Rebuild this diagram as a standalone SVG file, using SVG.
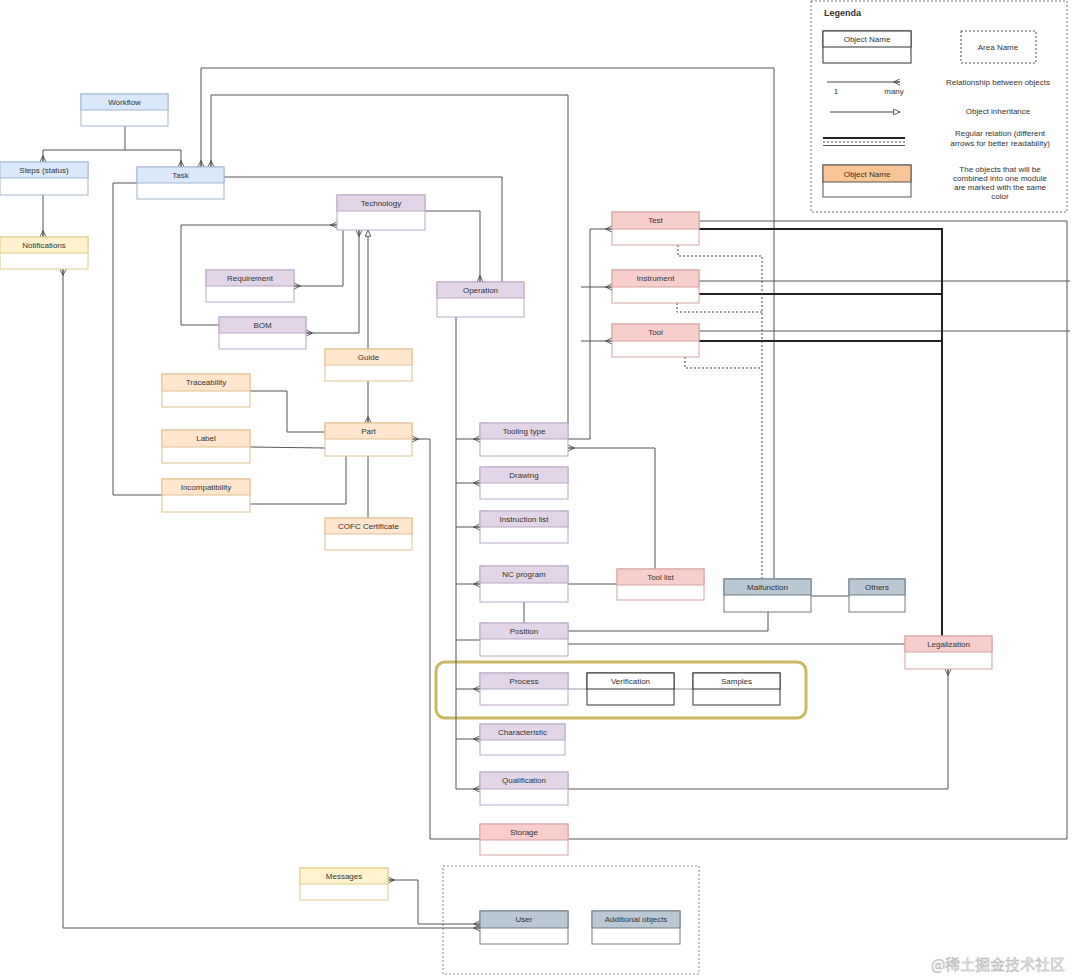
<svg xmlns="http://www.w3.org/2000/svg" width="1080" height="979" viewBox="0 0 1080 979">
<style>
text{font-family:"Liberation Sans",Arial,sans-serif;font-size:8px;fill:#333;text-anchor:middle}
.b{fill:#fff;stroke-width:1}
.h{stroke-width:1}
.blue .b,.blue .h{stroke:#a3b5cf}.blue .h{fill:#dae8fc}
.yel .b,.yel .h{stroke:#e0cc8a}.yel .h{fill:#fff2cc}
.pur .b,.pur .h{stroke:#b8a8c4}.pur .h{fill:#e1d5e7}
.org .b,.org .h{stroke:#dfc08e}.org .h{fill:#ffe6cc}
.red .b,.red .h{stroke:#d3a3a1}.red .h{fill:#f8cecc}
.gry .b,.gry .h{stroke:#6f7d88}.gry .h{fill:#bac8d3}
.wht .b,.wht .h{stroke:#333}.wht .h{fill:#fff}
.lo .b,.lo .h{stroke:#555}.lo .h{fill:#f9c594}
#connectors path{fill:none;stroke:#555;stroke-width:1}
#connectors path.thick{stroke:#222;stroke-width:2}
#connectors path.dash{stroke:#444;stroke-dasharray:2,2}
#connectors path.light{stroke:#999}
.cf{marker-end:url(#crow)}
.cs{marker-start:url(#crow)}
</style>
<defs>
<marker id="crow" viewBox="0 0 10 10" refX="10" refY="5" markerWidth="7" markerHeight="7" markerUnits="userSpaceOnUse" orient="auto-start-reverse">
<path d="M10,0.5 L1,5 L10,9.5 M1,5 H10" fill="none" stroke="#444" stroke-width="1.2"/>
</marker>
<marker id="tri" viewBox="0 0 10 10" refX="10" refY="5" markerWidth="7" markerHeight="7" markerUnits="userSpaceOnUse" orient="auto">
<path d="M1,1 L10,5 L1,9 Z" fill="#fff" stroke="#444" stroke-width="1.2"/>
</marker>
</defs>
<rect width="1080" height="979" fill="#fff"/>

<!-- Legend -->
<g id="legend">
<rect x="811" y="1" width="256" height="211" fill="none" stroke="#777" stroke-dasharray="2,2"/>
<text x="824" y="16" style="text-anchor:start;font-weight:bold;font-size:9px">Legenda</text>
<g class="wht"><rect class="b" x="823" y="31" width="88" height="32"/><rect class="h" x="823" y="31" width="88" height="16"/><text x="867" y="42">Object Name</text></g>
<rect x="961" y="31" width="75" height="32" fill="none" stroke="#555" stroke-dasharray="2,2"/>
<text x="998" y="50">Area Name</text>
<path d="M827,82 H900" stroke="#444" fill="none" marker-end="url(#crow)"/>
<text x="836" y="94">1</text><text x="894" y="94">many</text>
<text x="998" y="85">Relationship between objects</text>
<path d="M830,112 H900" stroke="#444" fill="none" marker-end="url(#tri)"/>
<text x="998" y="114">Object inheritance</text>
<path d="M823,138 H905" stroke="#222" stroke-width="2" fill="none"/>
<path d="M823,142 H905" stroke="#444" stroke-dasharray="2,2" fill="none"/>
<path d="M823,145.5 H905" stroke="#555" fill="none"/>
<text x="1000" y="136">Regular relation (different</text>
<text x="1000" y="146">arrows for better readability)</text>
<g class="lo"><rect class="b" x="823" y="165" width="88" height="32"/><rect class="h" x="823" y="165" width="88" height="17"/><text x="867" y="177">Object Name</text></g>
<text x="1000" y="172">The objects that will be</text>
<text x="1000" y="181">combined into one module</text>
<text x="1000" y="190">are marked with the same</text>
<text x="1000" y="199">color</text>
</g>

<!-- Areas -->
<rect x="436" y="662" width="370" height="56" rx="9" fill="none" stroke="#cbb864" stroke-width="3"/>
<rect x="443" y="866" width="256" height="108" fill="none" stroke="#888" stroke-dasharray="2,2"/>

<!-- Connectors -->
<g id="connectors">
<path class="cf" d="M125,126 V150 H43 V162"/>
<path class="cf" d="M125,150 H181 V167"/>
<path class="cf" d="M43,195 V237"/>
<path class="cf cs" d="M480,928 H63 V269"/>
<path class="cf cs" d="M480,924 H418 V880 H388"/>
<path class="cf" d="M774,579 V68 H201 V167"/>
<path class="cf" d="M568,423 V95 H211 V167"/>
<path d="M224,177 H502 V282"/>
<path class="cf" d="M425,211 H480 V282"/>
<path class="cf" d="M343,230 V286 H294"/>
<path class="cf cs" d="M359,230 V333 H306"/>
<path d="M368,349 V230" marker-end="url(#tri)"/>
<path class="cf" d="M219,325 H181 V225 H337"/>
<path class="cf" d="M368,381 V423"/>
<path d="M250,391 H287 V432 H325"/>
<path d="M250,447 L325,448"/>
<path d="M250,504 H346 V456"/>
<path d="M368,456 V518"/>
<path d="M137,183 H113 V495 H162"/>
<path class="cf" d="M1067,221 V839 H430 V439 H412"/>
<path d="M699,221 H1067"/>
<path d="M699,281 H1070"/>
<path d="M699,331 H1070"/>
<path class="thick" d="M699,229 H942 V636"/>
<path class="thick" d="M699,294 H942"/>
<path class="thick" d="M699,341 H942"/>
<path class="dash" d="M678,245 V256 H762 V579"/>
<path class="dash" d="M677,303 V312 H762"/>
<path class="dash" d="M685,357 V368 H762"/>
<path class="cf" d="M568,439 H590 V229 H612"/>
<path class="cf" d="M581,287 H612"/>
<path class="cf" d="M581,341 H612"/>
<path class="cf" d="M655,569 V448 H568"/>
<path class="cf" d="M456,317 V789 H480"/>
<path class="cf" d="M456,439 H480"/>
<path class="cf" d="M456,483 H480"/>
<path class="cf" d="M456,527 H480"/>
<path class="cf" d="M456,584 H480"/>
<path d="M456,640 H480"/>
<path class="cf" d="M456,689 H480"/>
<path class="cf" d="M456,739 H480"/>
<path d="M568,584 H617"/>
<path d="M524,602 V623"/>
<path d="M568,631 H768 V612"/>
<path d="M568,644 H905"/>
<path d="M811,596 H849"/>
<path class="cf" d="M568,789 H948 V669"/>
<path class="light" d="M568,689 H587"/>
<path class="light" d="M674,689 H693"/>
</g>

<!-- Nodes -->
<g id="workflow" class="blue"><rect class="b" x="81" y="94" width="87" height="32"/><rect class="h" x="81" y="94" width="87" height="16"/><text x="124.5" y="105">Workflow</text></g>
<g id="steps" class="blue"><rect class="b" x="0" y="162" width="88" height="33"/><rect class="h" x="0" y="162" width="88" height="16"/><text x="44" y="173">Steps (status)</text></g>
<g id="task" class="blue"><rect class="b" x="137" y="167" width="87" height="32"/><rect class="h" x="137" y="167" width="87" height="16"/><text x="180.5" y="178">Task</text></g>
<g id="notifications" class="yel"><rect class="b" x="0" y="237" width="88" height="32"/><rect class="h" x="0" y="237" width="88" height="16"/><text x="44" y="248">Notifications</text></g>
<g id="technology" class="pur"><rect class="b" x="337" y="195" width="88" height="35"/><rect class="h" x="337" y="195" width="88" height="16"/><text x="381" y="206">Technology</text></g>
<g id="requirement" class="pur"><rect class="b" x="206" y="270" width="88" height="32"/><rect class="h" x="206" y="270" width="88" height="16"/><text x="250" y="281">Requirement</text></g>
<g id="bom" class="pur"><rect class="b" x="219" y="317" width="87" height="32"/><rect class="h" x="219" y="317" width="87" height="16"/><text x="262.5" y="328">BOM</text></g>
<g id="operation" class="pur"><rect class="b" x="437" y="282" width="87" height="35"/><rect class="h" x="437" y="282" width="87" height="16"/><text x="480.5" y="293">Operation</text></g>
<g id="guide" class="org"><rect class="b" x="325" y="349" width="87" height="32"/><rect class="h" x="325" y="349" width="87" height="16"/><text x="368.5" y="360">Guide</text></g>
<g id="traceability" class="org"><rect class="b" x="162" y="374" width="88" height="33"/><rect class="h" x="162" y="374" width="88" height="17"/><text x="206" y="385">Traceability</text></g>
<g id="label" class="org"><rect class="b" x="162" y="430" width="88" height="33"/><rect class="h" x="162" y="430" width="88" height="17"/><text x="206" y="441">Label</text></g>
<g id="part" class="org"><rect class="b" x="325" y="423" width="87" height="33"/><rect class="h" x="325" y="423" width="87" height="16"/><text x="368.5" y="434">Part</text></g>
<g id="incompatibility" class="org"><rect class="b" x="162" y="479" width="88" height="33"/><rect class="h" x="162" y="479" width="88" height="16"/><text x="206" y="490">Incompatibility</text></g>
<g id="cofc" class="org"><rect class="b" x="325" y="518" width="87" height="32"/><rect class="h" x="325" y="518" width="87" height="16"/><text x="368.5" y="529">COFC Certificate</text></g>
<g id="test" class="red"><rect class="b" x="612" y="212" width="87" height="33"/><rect class="h" x="612" y="212" width="87" height="17"/><text x="655.5" y="223">Test</text></g>
<g id="instrument" class="red"><rect class="b" x="612" y="270" width="87" height="33"/><rect class="h" x="612" y="270" width="87" height="17"/><text x="655.5" y="281">Instrument</text></g>
<g id="tool" class="red"><rect class="b" x="612" y="324" width="87" height="33"/><rect class="h" x="612" y="324" width="87" height="17"/><text x="655.5" y="335">Tool</text></g>
<g id="toolingtype" class="pur"><rect class="b" x="480" y="423" width="88" height="33"/><rect class="h" x="480" y="423" width="88" height="16"/><text x="524" y="434">Tooling type</text></g>
<g id="drawing" class="pur"><rect class="b" x="480" y="467" width="88" height="32"/><rect class="h" x="480" y="467" width="88" height="16"/><text x="524" y="478">Drawing</text></g>
<g id="instructionlist" class="pur"><rect class="b" x="480" y="511" width="88" height="32"/><rect class="h" x="480" y="511" width="88" height="16"/><text x="524" y="522">Instruction list</text></g>
<g id="ncprogram" class="pur"><rect class="b" x="480" y="566" width="88" height="36"/><rect class="h" x="480" y="566" width="88" height="17"/><text x="524" y="577">NC program</text></g>
<g id="toollist" class="red"><rect class="b" x="617" y="569" width="87" height="31"/><rect class="h" x="617" y="569" width="87" height="16"/><text x="660.5" y="580">Tool list</text></g>
<g id="malfunction" class="gry"><rect class="b" x="724" y="579" width="87" height="33"/><rect class="h" x="724" y="579" width="87" height="16"/><text x="767.5" y="590">Malfunction</text></g>
<g id="others" class="gry"><rect class="b" x="849" y="579" width="56" height="33"/><rect class="h" x="849" y="579" width="56" height="16"/><text x="877" y="590">Others</text></g>
<g id="position" class="pur"><rect class="b" x="480" y="623" width="88" height="33"/><rect class="h" x="480" y="623" width="88" height="16"/><text x="524" y="634">Position</text></g>
<g id="legalization" class="red"><rect class="b" x="905" y="636" width="87" height="33"/><rect class="h" x="905" y="636" width="87" height="16"/><text x="948.5" y="647">Legalization</text></g>
<g id="process" class="pur"><rect class="b" x="480" y="673" width="88" height="32"/><rect class="h" x="480" y="673" width="88" height="16"/><text x="524" y="684">Process</text></g>
<g id="verification" class="wht"><rect class="b" x="587" y="673" width="87" height="32"/><rect class="h" x="587" y="673" width="87" height="16"/><text x="630.5" y="684">Verification</text></g>
<g id="samples" class="wht"><rect class="b" x="693" y="673" width="87" height="32"/><rect class="h" x="693" y="673" width="87" height="16"/><text x="736.5" y="684">Samples</text></g>
<g id="characteristic" class="pur"><rect class="b" x="480" y="724" width="85" height="31"/><rect class="h" x="480" y="724" width="85" height="16"/><text x="522.5" y="735">Characteristic</text></g>
<g id="qualification" class="pur"><rect class="b" x="480" y="772" width="88" height="33"/><rect class="h" x="480" y="772" width="88" height="17"/><text x="524" y="783">Qualification</text></g>
<g id="storage" class="red"><rect class="b" x="480" y="824" width="88" height="31"/><rect class="h" x="480" y="824" width="88" height="16"/><text x="524" y="835">Storage</text></g>
<g id="messages" class="yel"><rect class="b" x="300" y="868" width="88" height="32"/><rect class="h" x="300" y="868" width="88" height="16"/><text x="344" y="879">Messages</text></g>
<g id="user" class="gry"><rect class="b" x="480" y="911" width="88" height="33"/><rect class="h" x="480" y="911" width="88" height="17"/><text x="524" y="922">User</text></g>
<g id="additional" class="gry"><rect class="b" x="592" y="911" width="88" height="33"/><rect class="h" x="592" y="911" width="88" height="17"/><text x="636" y="922">Additional objects</text></g>

<text x="998" y="970" style="font-family:'Noto Sans CJK SC',sans-serif;font-size:15px;fill:#e6e6e6;stroke:#aaa;stroke-width:0.4">@稀土掘金技术社区</text>
</svg>
